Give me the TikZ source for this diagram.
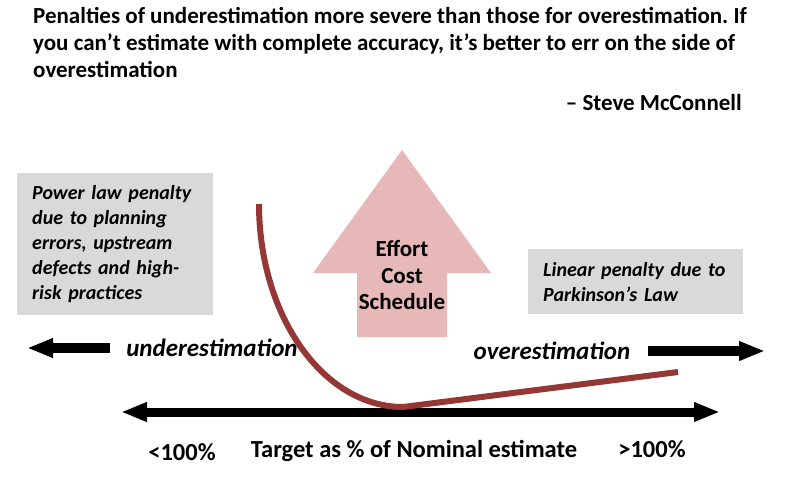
\documentclass[tikz,border=0pt]{standalone}
\usepackage{fontspec}
\setmainfont{Carlito}
\frenchspacing
\usetikzlibrary{arrows.meta,positioning}
\definecolor{penRed}{HTML}{953735}
\definecolor{penPink}{HTML}{E6B8B7}
\definecolor{penGray}{HTML}{D9D9D9}

\begin{document}
\begin{tikzpicture}[x=1pt,y=-1pt,
    quote/.style={font=\fontsize{23}{27}\selectfont\bfseries,inner sep=0pt,align=left},
    note/.style={fill=penGray,inner xsep=15pt,inner ysep=0pt,anchor=north west,
                 font=\fontsize{20}{25}\selectfont\bfseries\itshape,align=left},
    side/.style={font=\fontsize{25}{28}\selectfont\bfseries\itshape,inner sep=0pt},
    axislbl/.style={font=\fontsize{24.5}{28}\selectfont\bfseries,inner sep=0pt},
    fat/.style={line width=10pt,-{Triangle[length=26pt,width=18pt]}},
    curve/.style={draw=penRed,line width=6pt}]
  \useasboundingbox (0,0) rectangle (792,482);

  % quotation
  \node[quote,anchor=north west] (quote) at (33,7)
    {Penalties of underestimation more severe than those for overestimation. If\\
     you can’t estimate with complete accuracy, it’s better to err on the side of\\
     overestimation};
  \node[quote,anchor=east] (author) at (742,103) {– Steve McConnell};

  % penalty notes
  \node[note,minimum width=196pt,minimum height=142pt,text width=166pt] (power) at (17,173)
    {Power law penalty\\ due to planning\\ errors, upstream\\ defects and high-\\ risk practices};
  \node[note,minimum width=215pt,minimum height=65pt,text width=185pt] (linear) at (528,249)
    {Linear penalty due to\\ Parkinson’s Law};

  % big up arrow
  \fill[penPink] (402,150) -- (491,273) -- (447,273) -- (447,337)
    -- (357,337) -- (357,273) -- (313,273) -- cycle;
  \node[font=\fontsize{23}{26.5}\selectfont\bfseries,align=center] (impact) at (402,275)
    {Effort\\ Cost\\ Schedule};

  % direction arrows
  \node[side] (under) at (212,348) {underestimation};
  \node[side] (over) at (552,351) {overestimation};
  \coordinate (ul) at (110,348);
  \coordinate (ut) at (27,348);
  \coordinate (or) at (648,351);
  \coordinate (ot) at (765,351);
  \draw[fat] (ul) -- (ut);
  \draw[fat] (or) -- (ot);

  % axis
  \coordinate (axl) at (121,412);
  \coordinate (axr) at (720,412);
  \draw[line width=9pt,{Triangle[length=26pt,width=18pt]}-{Triangle[length=26pt,width=18pt]}] (axl) -- (axr);
  \node[axislbl] (low) at (182,452) {<100\%};
  \node[axislbl] (target) at (414,451) {Target as \% of Nominal estimate};
  \node[axislbl] (high) at (652,449) {>100\%};

  % penalty curve
  \coordinate (cs) at (259,204);
  \coordinate (ce) at (678,372);
  \draw[curve] (cs) arc[start angle=180,end angle=90,x radius=144,y radius=203] coordinate (cm) -- (ce);
\end{tikzpicture}
\end{document}
